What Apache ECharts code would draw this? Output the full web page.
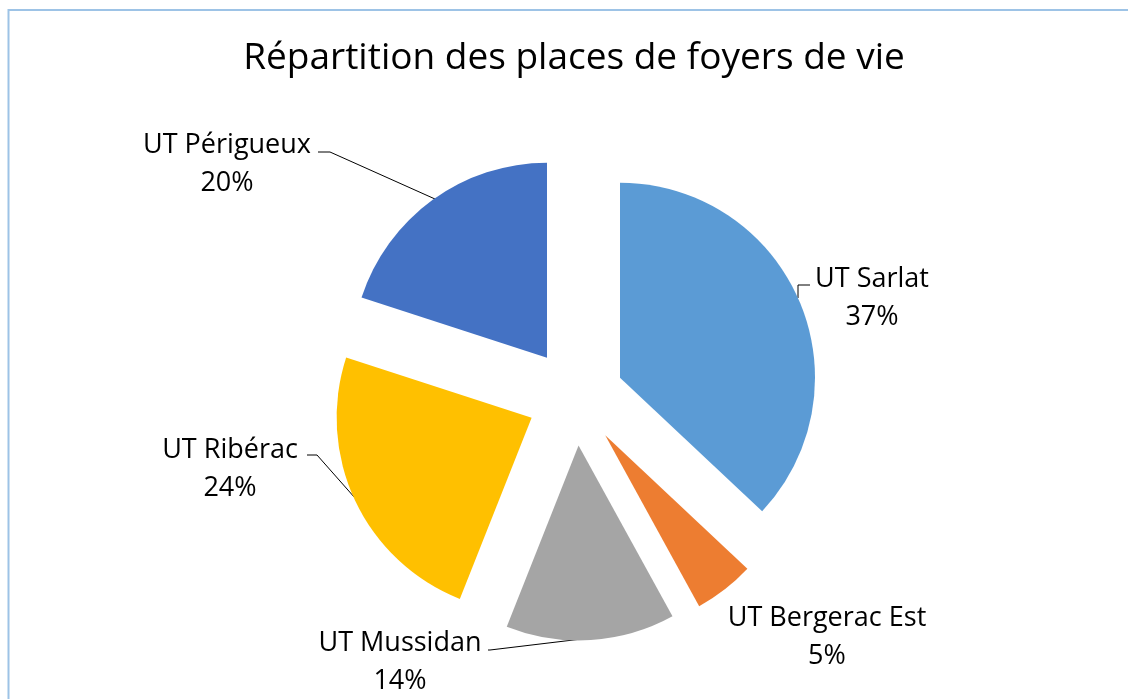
<!DOCTYPE html>
<html>
<head>
<meta charset="utf-8">
<script src="https://cdn.jsdelivr.net/npm/echarts@6/dist/echarts.min.js"></script>
<style>
html,body{margin:0;padding:0;background:#fff;}
#chart{width:1128px;height:699px;}
</style>
</head>
<body>
<div id="chart"></div>
<script>
// ---- data ----
const categories = ['UT Sarlat', 'UT Bergerac Est', 'UT Mussidan', 'UT Ribérac', 'UT Périgueux'];
const values = [37, 5, 14, 24, 20];
const colors = ['#5B9BD5', '#ED7D31', '#A5A5A5', '#FFC000', '#4472C4'];
const titleText = 'Répartition des places de foyers de vie';

// ---- label layout (pixel positions, separate from data) ----
const labelPos = [
  { x: 872, y: 298, line: [[798, 298], [798, 285], [810, 285]] },
  { x: 827, y: 637, line: null },
  { x: 400, y: 662, line: [[590, 638], [490, 650], [488, 650]] },
  { x: 230, y: 469, line: [[355, 498], [317, 455], [307, 455]] },
  { x: 227, y: 164, line: [[435, 199], [330, 152], [318, 152]] }
];

const FONT = 'Open Sans';
const PIE_CENTER = [575.5, 397];
const PIE_RADIUS = 195;

const chart = echarts.init(document.getElementById('chart'), null, { renderer: 'canvas' });

// exploded slices
const sliceData = categories.map((name, i) => ({
  name: name,
  value: values[i],
  selected: true,
  itemStyle: { color: colors[i] },
  select: { itemStyle: { color: colors[i], borderWidth: 0 } }
}));

// same data, carrying the labels (sectors kept transparent)
const labelData = categories.map((name, i) => ({
  name: name,
  value: values[i],
  labelLine: { show: labelPos[i].line !== null }
}));

chart.setOption({
  animation: false,
  backgroundColor: '#ffffff',
  title: {
    text: titleText,
    left: 569,
    textAlign: 'center',
    top: 35,
    textStyle: { fontFamily: FONT, fontWeight: 'normal', fontSize: 37, color: '#000000' }
  },
  graphic: [{
    type: 'rect',
    shape: { x: 8.5, y: 10, width: 1200, height: 800 },
    style: { fill: 'none', stroke: '#9DC3E6', lineWidth: 2 },
    silent: true
  }],
  series: [{
    type: 'pie',
    center: PIE_CENTER,
    radius: PIE_RADIUS,
    startAngle: 90,
    clockwise: true,
    selectedMode: 'multiple',
    selectedOffset: 48.5,
    emphasis: { disabled: true },
    itemStyle: { borderWidth: 0 },
    label: { show: false },
    labelLine: { show: false },
    silent: true,
    data: sliceData
  }, {
    type: 'pie',
    center: PIE_CENTER,
    radius: PIE_RADIUS,
    startAngle: 90,
    clockwise: true,
    selectedMode: false,
    percentPrecision: 0,
    avoidLabelOverlap: false,
    emphasis: { disabled: true },
    silent: true,
    z: 1,
    itemStyle: { color: 'rgba(0,0,0,0)', borderWidth: 0 },
    label: {
      show: true,
      position: 'outside',
      formatter: '{b}\n{d}%',
      fontFamily: FONT,
      fontSize: 27,
      lineHeight: 38,
      color: '#000000',
      align: 'center'
    },
    labelLine: {
      show: true,
      lineStyle: { color: '#000000', width: 1 }
    },
    labelLayout: function (params) {
      const p = labelPos[params.dataIndex];
      const out = { x: p.x, y: p.y, align: 'center', verticalAlign: 'middle' };
      if (p.line) out.labelLinePoints = p.line;
      return out;
    },
    data: labelData
  }]
});
</script>
</body>
</html>
